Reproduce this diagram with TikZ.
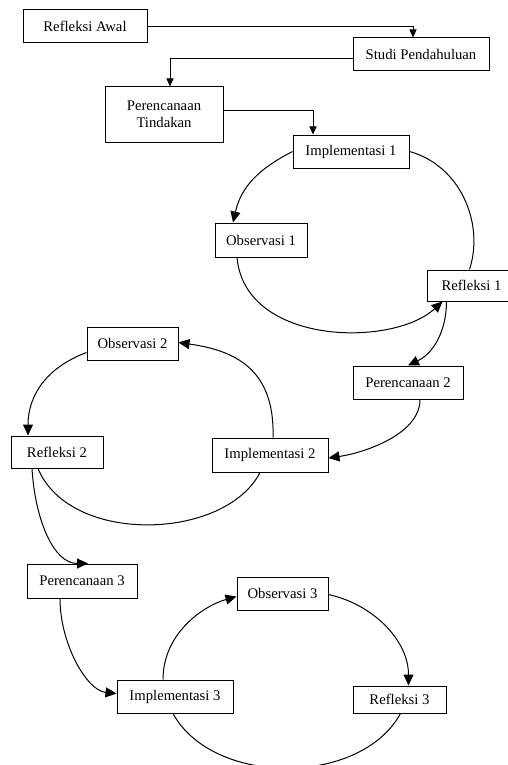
\documentclass[tikz,border=0pt]{standalone}
\usepackage{fontspec}
\setmainfont{Liberation Serif}
\usetikzlibrary{arrows.meta}
\begin{document}
\begin{tikzpicture}[x=1pt, y=-1pt, line width=1pt,
  box/.style={draw, align=center, inner sep=0pt, minimum height=33pt, font=\fontsize{14.7}{17}\selectfont},
  arr/.style={-{Triangle[length=8pt,width=7pt]}},
  carr/.style={-{Triangle[length=11pt,width=10pt]}}]
\useasboundingbox (0,0) rectangle (507,765);
\node[box, minimum width=124pt] (awal) at (85,26.5) {Refleksi Awal};
\node[box, minimum width=136pt] (studi) at (421,54.5) {Studi Pendahuluan};
\node[box, minimum width=118pt, minimum height=55pt] (tindakan) at (164,114.5) {Perencanaan\\Tindakan};
\node[box, minimum width=116pt] (imp1) at (351,151.5) {Implementasi 1};
\node[box, minimum width=92pt, minimum height=34pt] (obs1) at (261,240) {Observasi 1};
\node[box, minimum width=89pt, minimum height=31pt] (ref1) at (471.5,285.5) {Refleksi 1};
\node[box, minimum width=91pt] (obs2) at (132.5,343.5) {Observasi 2};
\node[box, minimum width=110pt] (per2) at (408,382.5) {Perencanaan 2};
\node[box, minimum width=92pt, minimum height=32pt] (ref2) at (57,452) {Refleksi 2};
\node[box, minimum width=116pt, minimum height=34pt] (imp2) at (270,455) {Implementasi 2};
\node[box, minimum width=110pt, minimum height=34pt] (per3) at (82,581) {Perencanaan 3};
\node[box, minimum width=91pt] (obs3) at (282.5,593.5) {Observasi 3};
\node[box, minimum width=116pt] (imp3) at (175,696.5) {Implementasi 3};
\node[box, minimum width=93pt, minimum height=27pt] (ref3) at (399.5,699.5) {Refleksi 3};
% awal
\draw[arr] (awal.east) -| ([xshift=-8pt]studi.north);
\draw[arr] ([yshift=-4pt]studi.west) -| ([xshift=6pt]tindakan.north);
\draw[arr] ([yshift=4pt]tindakan.east) -| ([xshift=-38pt]imp1.north);
% siklus 1
\draw[carr] (imp1.west) .. controls +(-35,18) and +(8,-35) .. ([xshift=-28pt]obs1.north);
\draw[carr] ([xshift=-24pt]obs1.south) .. controls +(8,88) and +(-50,46) .. ([xshift=-29pt]ref1.south);
\draw (imp1.east) .. controls +(51,14) and +(15,-46) .. ([xshift=-2pt]ref1.north);
\draw[carr] ([xshift=-25pt]ref1.south) .. controls +(0,30) and +(25,-12) .. (per2.north);
% siklus 2
\draw[carr] ([xshift=12pt]per2.south) .. controls +(0,35) and +(35,-5) .. ([yshift=-3pt]imp2.east);
\draw[carr] ([xshift=3pt]imp2.north) .. controls +(2,-68) and +(57,8) .. ([yshift=1pt]obs2.east);
\draw[carr] ([yshift=-9pt]obs2.west) .. controls +(-40,15) and +(0,-40) .. ([xshift=-29pt]ref2.north);
\draw ([xshift=-19pt]ref2.south) .. controls +(32,77) and +(-35,68) .. ([xshift=-10pt]imp2.south);
\draw[carr] ([xshift=-25pt]ref2.south) .. controls +(3,50) and +(-35,0) .. ([xshift=6pt]per3.north);
% siklus 3
\draw[carr] ([xshift=-22pt]per3.south) .. controls +(0,45) and +(-30,-3) .. ([yshift=3pt]imp3.west);
\draw[carr] ([xshift=-12pt]imp3.north) .. controls +(0,-45) and +(-35,10) .. ([yshift=-3pt]obs3.west);
\draw[carr] ([yshift=-1pt]obs3.east) .. controls +(45,10) and +(0,-45) .. ([xshift=9pt]ref3.north);
\draw ([xshift=1pt]ref3.south) .. controls +(-40,73) and +(40,73) .. ([xshift=-2pt]imp3.south);
\end{tikzpicture}
\end{document}
